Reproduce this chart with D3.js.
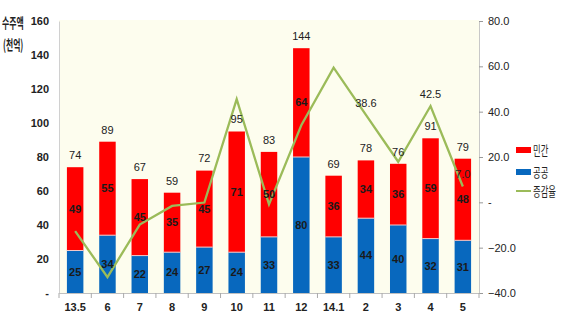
<!DOCTYPE html>
<html><head><meta charset="utf-8">
<script src="https://cdn.jsdelivr.net/npm/d3@7"></script>
<style>
body{margin:0;background:#fff;}
text{font-family:"Liberation Sans Narrow","Liberation Sans",Arial,sans-serif;}
.kr{font-family:"Noto Sans CJK KR","Noto Sans",sans-serif;}
</style></head>
<body>
<svg id="c" width="561" height="322"></svg>
<script>
const categories = ["13.5","6","7","8","9","10","11","12","14.1","2","3","4","5"];
const publicVals = [25,34,22,24,27,24,33,80,33,44,40,32,31];
const privateVals = [49,55,45,35,45,71,50,64,36,34,36,59,48];
const totals = [74,89,67,59,72,95,83,144,69,78,76,91,79];
const growth = [-12.7,-33.0,-9.8,-1.6,-0.1,45.5,-0.9,34.0,59.4,38.6,17.9,42.5,7.0];
const growthLabels = [null,null,null,null,null,null,null,null,null,"38.6",null,"42.5","7.0"];
const leftTicks = [0,20,40,60,80,100,120,140,160];
const rightTicks = [-40,-20,0,20,40,60,80];
const legendNames = ["민간","공공","증감율"];

const svg = d3.select("#c");
const L = 59, R = 479, T = 21, B = 293;
const x = d3.scaleBand().domain(categories).range([L,R]).paddingInner(0.49).paddingOuter(0.245);
const y = d3.scaleLinear().domain([0,160]).range([B,T]);
const y2 = d3.scaleLinear().domain([-40,80]).range([B,T]);

svg.append("rect").attr("x",L).attr("y",T-1).attr("width",R-L).attr("height",B-T+1).attr("fill","#FDFDEE");

// left axis
const ga = svg.append("g").attr("transform",`translate(${L},0)`)
  .call(d3.axisLeft(y).tickValues(leftTicks).tickSize(0).tickPadding(10).tickFormat(d=>d===0?"-":d));
ga.select(".domain").attr("stroke","#d0d0d0");
ga.selectAll("text").attr("font-size",11).attr("font-weight","bold").attr("fill","#222")
  .attr("font-family","'Liberation Sans Narrow',Arial,sans-serif");

// right axis
const gr = svg.append("g").attr("transform",`translate(${R},0)`)
  .call(d3.axisRight(y2).tickValues(rightTicks).tickSize(4).tickPadding(5).tickFormat(d=>d===0?"-":d3.format(".1f")(d)));
gr.select(".domain").attr("stroke","#c8c8c8");
gr.selectAll(".tick line").attr("stroke","#999");
gr.selectAll("text").attr("font-size",11).attr("fill","#222")
  .attr("font-family","'Liberation Sans Narrow',Arial,sans-serif");

// bottom axis
const gb = svg.append("g").attr("transform",`translate(0,${B})`)
  .call(d3.axisBottom(x).tickSize(0).tickPadding(10));
gb.select(".domain").attr("stroke","#c0c0c0");
gb.selectAll("text").attr("font-size",11).attr("font-weight","bold").attr("fill","#222")
  .attr("font-family","'Liberation Sans Narrow',Arial,sans-serif");
const step = x.step();
svg.append("g").selectAll("line").data(d3.range(categories.length+1)).join("line")
  .attr("x1",i=>L+i*step).attr("x2",i=>L+i*step).attr("y1",B).attr("y2",B+5).attr("stroke","#aaa");

// bars
const bw = x.bandwidth();
const g = svg.append("g");
categories.forEach((c,i)=>{
  g.append("rect").attr("x",x(c)).attr("width",bw).attr("y",y(publicVals[i])).attr("height",y(0)-y(publicVals[i]))
    .attr("fill","#0868BE");
  g.append("rect").attr("x",x(c)).attr("width",bw).attr("y",y(publicVals[i]+privateVals[i])).attr("height",y(publicVals[i])-y(publicVals[i]+privateVals[i]))
    .attr("fill","#FF0000");
  g.append("line").attr("x1",x(c)).attr("x2",x(c)+bw).attr("y1",y(publicVals[i])).attr("y2",y(publicVals[i])).attr("stroke","#f4c8c8").attr("stroke-width",1);
});

// line
const line = d3.line().x((d,i)=>x(categories[i])+bw/2).y(d=>y2(d));
svg.append("path").datum(growth).attr("d",line).attr("fill","none").attr("stroke","#9BBB59").attr("stroke-width",2.3);

// segment labels
const lab = svg.append("g").attr("font-size",11).attr("font-weight","bold").attr("fill","#1a1a1a").attr("text-anchor","middle");
categories.forEach((c,i)=>{
  const cx = x(c)+bw/2;
  lab.append("text").attr("x",cx).attr("y",y(publicVals[i]/2)).attr("dy","0.35em").text(publicVals[i]);
  lab.append("text").attr("x",cx).attr("y",y(publicVals[i]+privateVals[i]/2)).attr("dy","0.35em").text(privateVals[i]);
});
const tl = svg.append("g").attr("font-size",11).attr("fill","#222").attr("text-anchor","middle");
categories.forEach((c,i)=>{
  tl.append("text").attr("x",x(c)+bw/2).attr("y",y(totals[i])-12).attr("dy","0.35em").text(totals[i]);
  if(growthLabels[i]) tl.append("text").attr("x",x(c)+bw/2).attr("y",y2(growth[i])-12).attr("dy","0.35em").text(growthLabels[i]);
});

// axis title (condensed via scale)
svg.append("text").attr("class","kr").attr("transform","translate(2,23) scale(0.56,1)").attr("dy","0.35em")
  .attr("font-size",14).attr("font-weight","bold").attr("fill","#222").text("수주액");
svg.append("text").attr("class","kr").attr("transform","translate(3,45) scale(0.56,1)").attr("dy","0.35em")
  .attr("font-size",14).attr("font-weight","bold").attr("fill","#222").text("(천억)");

// legend
const lg = svg.append("g");
const ly = [150,172,191];
lg.append("rect").attr("x",516).attr("y",ly[0]-3).attr("width",15).attr("height",6).attr("fill","#FF0000");
lg.append("rect").attr("x",516).attr("y",ly[1]-3).attr("width",15).attr("height",6).attr("fill","#0868BE");
lg.append("line").attr("x1",516).attr("x2",531).attr("y1",ly[2]).attr("y2",ly[2]).attr("stroke","#9BBB59").attr("stroke-width",2);
legendNames.forEach((n,i)=>{
  lg.append("text").attr("class","kr").attr("transform",`translate(533,${ly[i]}) scale(0.64,1)`).attr("dy","0.35em")
    .attr("font-size",13).attr("fill","#222").text(n);
});
</script>
</body></html>
